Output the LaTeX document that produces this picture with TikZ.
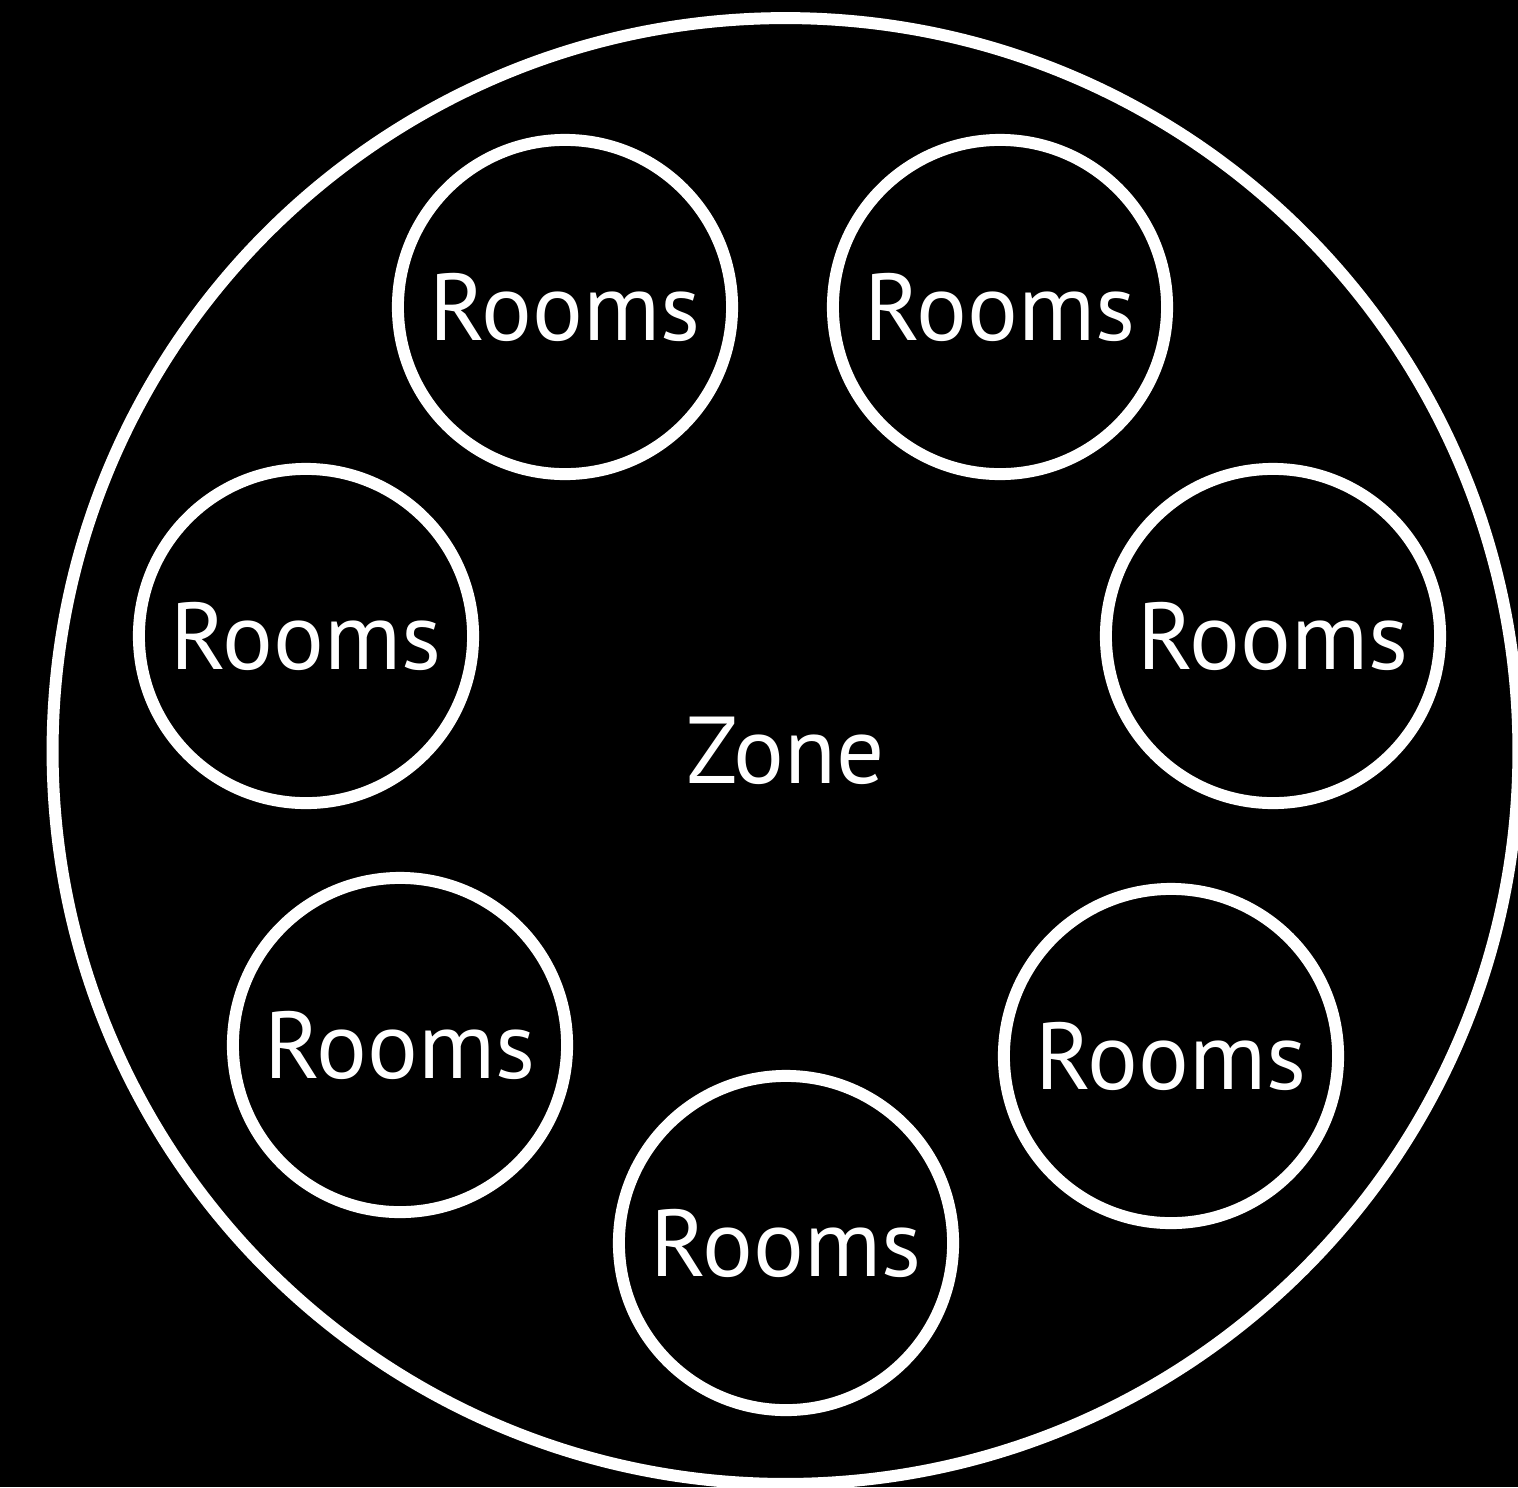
\documentclass[tikz,border=0pt]{standalone}
\usepackage{fontspec}
\setmainfont{PT Sans}
\usepackage{tikz}
\usetikzlibrary{positioning}

\tikzset{
  zonering/.style={circle, draw=white, line width=3.4pt, minimum size=14.65cm, inner sep=0pt, text=white},
  room/.style={circle, draw=white, line width=3.4pt, minimum size=3.34cm, inner sep=0pt, text=white},
  lbl/.style={font=\fontsize{27}{32}\selectfont}
}

\begin{document}
\begin{tikzpicture}[x=0.01cm, y=-0.01cm]
\fill[black] (0,0) rectangle (1518,1487);
\useasboundingbox (0,0) rectangle (1518,1487);
% zone
\node[zonering, lbl] (zone) at (785.5,751) {Zone};
% rooms
\node[room, lbl] (r1) at (565,307) {Rooms};
\node[room, lbl] (r2) at (1000,307) {Rooms};
\node[room, lbl] (r3) at (306,636) {Rooms};
\node[room, lbl] (r4) at (1273,636) {Rooms};
\node[room, lbl] (r5) at (400,1045) {Rooms};
\node[room, lbl] (r6) at (1171,1056) {Rooms};
\node[room, lbl] (r7) at (786,1243) {Rooms};
\end{tikzpicture}
\end{document}
